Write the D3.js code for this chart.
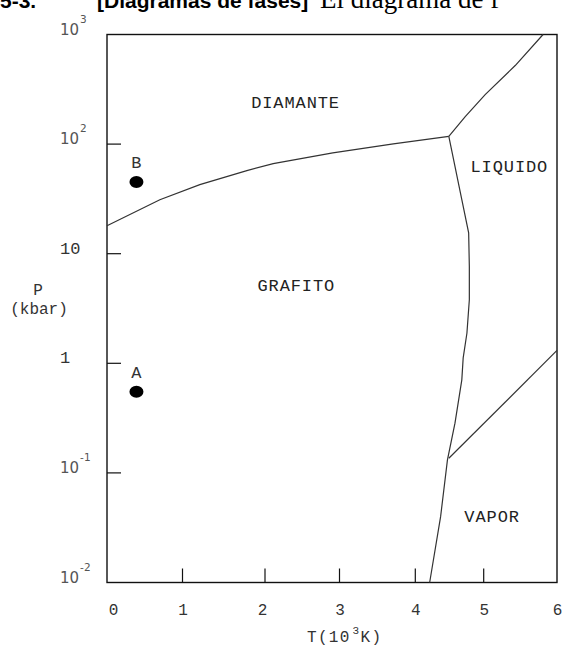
<!DOCTYPE html>
<html><head><meta charset="utf-8">
<script src="https://cdn.jsdelivr.net/npm/d3@7"></script>
<style>
html,body{margin:0;padding:0;background:#fff;}
svg{display:block;}
</style></head>
<body>
<svg id="c" width="563" height="645"></svg>
<script>
// ---- data ----
const T_TICKS = [0, 1, 2, 3, 4, 5, 6];
const P_TICKS = [0.01, 0.1, 1, 10, 100, 1000];
const P_TICK_LABELS = [["10","-2"],["10","-1"],["1",""],["10",""],["10","2"],["10","3"]];
// phase boundaries [T (10^3 K), P (kbar)]
const graphiteDiamond = [[0,18.0],[0.70,31.1],[1.21,42.7],[1.78,57.3],[2.11,66.4],[2.91,83.2],[3.71,100.4],[4.49,117.8]];
const diamondLiquid = [[4.49,117.8],[4.73,178],[5.02,283],[5.43,521],[5.81,1000]];
const graphiteLiquid = [[4.49,117.8],[4.68,31.1],[4.78,15.5],[4.79,7.66],[4.79,3.80],[4.755,1.89],[4.70,1.12],[4.68,0.706],[4.58,0.284],[4.47,0.1315],[4.37,0.0399],[4.21,0.01]];
const liquidVapor = [[4.49,0.136],[6.0,1.31]];
const points = [{name:"A", T:0.39, P:0.55},{name:"B", T:0.39, P:45}];
const regions = [
  {text:"DIAMANTE", T:2.41, P:215},
  {text:"GRAFITO", T:2.42, P:4.59},
  {text:"LIQUIDO", T:5.35, P:55.2},
  {text:"VAPOR", T:5.115, P:0.0359}
];

// ---- layout ----
const L = 107, R = 557, TOP = 34.5, BOT = 582.5;
const svg = d3.select("#c");
const x = d3.scaleLinear().domain(T_TICKS).range([107, 182.5, 265, 339.5, 415.3, 483.7, 557]);
const y = d3.scaleLog().domain([0.01, 1000]).range([BOT, TOP]);
const mono = "'Liberation Mono', 'DejaVu Sans Mono', monospace";

// header (cropped at top of page, as in the reference)
const hdr = svg.append("text").attr("y", 8).attr("fill", "#000");
hdr.append("tspan").attr("x", 0).attr("font-family", "'Liberation Sans', Arial, sans-serif").attr("font-weight", "bold").attr("font-size", 21).text("5-3.");
hdr.append("tspan").attr("x", 97).attr("font-family", "'Liberation Sans', Arial, sans-serif").attr("font-weight", "bold").attr("font-size", 21).text("[Diagramas de fases]");
hdr.append("tspan").attr("x", 320).attr("font-family", "'Liberation Serif', 'Times New Roman', serif").attr("font-size", 27).text("El diagrama de f");

// frame
svg.append("rect").attr("x", L).attr("y", TOP).attr("width", R - L).attr("height", BOT - TOP)
  .attr("fill", "none").attr("stroke", "#111").attr("stroke-width", 1.4);

// x axis ticks (inward) and labels
const xAxis = d3.axisBottom(x).tickValues(T_TICKS).tickSizeInner(0).tickSizeOuter(0).tickPadding(21)
  .tickFormat(d3.format("d"));
const gx = svg.append("g").attr("transform", `translate(0,${BOT})`).call(xAxis);
gx.select(".domain").remove();
gx.selectAll("text").attr("font-family", mono).attr("font-size", 16).attr("fill", "#333")
  .attr("dx", d => d === 0 ? 6 : (d === 2 ? -3 : 0));
svg.append("g").selectAll("line").data(T_TICKS.slice(1, -1)).join("line")
  .attr("x1", d => x(d)).attr("x2", d => x(d)).attr("y1", BOT).attr("y2", BOT - 14)
  .attr("stroke", "#111").attr("stroke-width", 1.2);

// y axis ticks (inward) and labels
svg.append("g").selectAll("line").data(P_TICKS.slice(1, -1)).join("line")
  .attr("x1", L).attr("x2", L + 14).attr("y1", d => y(d)).attr("y2", d => y(d))
  .attr("stroke", "#111").attr("stroke-width", 1.2);
const yl = svg.append("g").selectAll("text").data(P_TICKS).join("text")
  .attr("x", 60).attr("y", d => y(d));
yl.each(function(d, i) {
  const [base, exp] = P_TICK_LABELS[i];
  const t = d3.select(this);
  if (exp === "") {
    t.attr("font-family", mono).attr("font-size", 17).attr("fill", "#333").text(base);
  } else {
    t.attr("font-family", "'DejaVu Sans', sans-serif").attr("fill", "#555");
    t.append("tspan").attr("font-size", 15).text(base);
    t.append("tspan").attr("font-size", 10.5).attr("dx", 1).attr("dy", -12).text(exp);
  }
});

// axis titles
svg.append("text").attr("x", 38).attr("y", 295).attr("text-anchor", "middle")
  .attr("font-family", mono).attr("font-size", 16).attr("fill", "#333").text("P");
svg.append("text").attr("x", 39).attr("y", 314).attr("text-anchor", "middle")
  .attr("font-family", mono).attr("font-size", 16).attr("fill", "#333").text("(kbar)");
const xt = svg.append("text").attr("x", 307).attr("y", 642)
  .attr("font-family", mono).attr("font-size", 16).attr("fill", "#333").attr("letter-spacing", 1.3);
xt.append("tspan").text("T(10");
xt.append("tspan").attr("font-size", 11).attr("dy", -8).attr("dx", 2).text("3");
xt.append("tspan").attr("dy", 8).text("K)");

// phase boundaries
const line = d3.line().x(d => x(d[0])).y(d => y(d[1]));
[graphiteDiamond, diamondLiquid, graphiteLiquid, liquidVapor].forEach(s => {
  svg.append("path").attr("d", line(s)).attr("fill", "none")
    .attr("stroke", "#333").attr("stroke-width", 1.2);
});

// points
svg.append("g").selectAll("ellipse").data(points).join("ellipse")
  .attr("cx", d => x(d.T)).attr("cy", d => y(d.P)).attr("rx", 7).attr("ry", 6).attr("fill", "#000");
svg.append("g").selectAll("text").data(points).join("text")
  .attr("x", d => x(d.T)).attr("y", d => y(d.P) - 14).attr("text-anchor", "middle")
  .attr("font-family", mono).attr("font-size", 17).attr("fill", "#333").text(d => d.name);

// region labels
svg.append("g").selectAll("text").data(regions).join("text")
  .attr("x", d => x(d.T)).attr("y", d => y(d.P)).attr("text-anchor", "middle")
  .attr("font-family", mono).attr("font-size", 17).attr("letter-spacing", 0.9).attr("fill", "#222")
  .text(d => d.text);
</script>
</body></html>
